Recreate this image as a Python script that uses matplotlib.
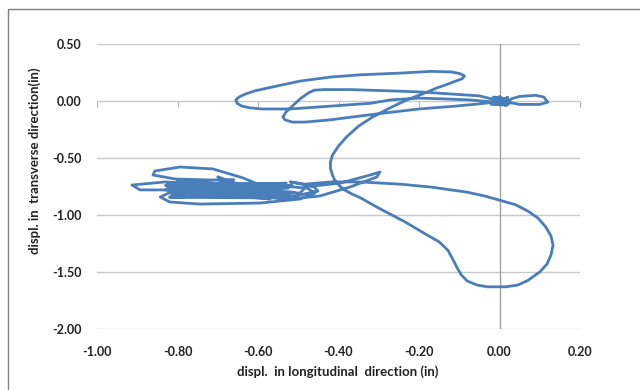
import matplotlib
matplotlib.use('Agg')
import matplotlib.pyplot as plt
from matplotlib.patches import Rectangle

plt.rcParams['font.family'] = ['Lato', 'DejaVu Sans']

# displacement path (inches)
origin_x = [0.00, 0.02, -0.02, 0.02, -0.015, 0.02, -0.02, 0.025, 0.0, 0.015, -0.01, 0.02,
            -0.015, 0.01, -0.005, 0.02, 0.03, 0.05, 0.09, 0.11, 0.12, 0.10, 0.05, 0.02, 0.0, -0.01]
origin_y = [0.00, 0.03, -0.03, -0.035, 0.035, 0.01, -0.02, -0.02, 0.04, -0.04, 0.03, 0.0,
            0.02, -0.03, 0.01, -0.01, 0.02, 0.04, 0.05, 0.035, -0.01, -0.03, -0.03, -0.01, 0.02, 0.01]

loop_x = [-0.05, -0.115, -0.20, -0.28, -0.37, -0.435, -0.46, -0.475, -0.495, -0.515, -0.53,
          -0.538, -0.533, -0.515, -0.483, -0.42, -0.365, -0.285, -0.20, -0.11, -0.05, -0.01]
loop_y = [0.045, 0.06, 0.08, 0.09, 0.10, 0.10, 0.095, 0.07, 0.02, -0.045, -0.095,
          -0.14, -0.165, -0.185, -0.185, -0.165, -0.14, -0.105, -0.07, -0.045, -0.025, -0.01]

big_x = [-0.075, -0.15, -0.20, -0.27, -0.32, -0.42, -0.52, -0.59, -0.62, -0.64, -0.652,
         -0.655, -0.647, -0.632, -0.607, -0.555, -0.495, -0.42, -0.345, -0.245, -0.17,
         -0.12, -0.098, -0.087, -0.093, -0.108]
big_y = [0.01, 0.02, 0.025, 0.01, -0.02, -0.045, -0.07, -0.07, -0.06, -0.045, -0.02,
         0.01, 0.035, 0.06, 0.09, 0.13, 0.175, 0.21, 0.23, 0.245, 0.26,
         0.255, 0.24, 0.22, 0.195, 0.175]

swing_x = [-0.135, -0.155, -0.193, -0.23, -0.272, -0.315, -0.35, -0.38, -0.40, -0.415, -0.42,
           -0.42, -0.415, -0.41, -0.397, -0.385, -0.367, -0.345, -0.30, -0.235, -0.18, -0.15,
           -0.128, -0.115, -0.105, -0.095, -0.08, -0.055, -0.03, 0.015, 0.045, 0.07, 0.10,
           0.118, 0.128, 0.133, 0.128, 0.115, 0.095, 0.07, 0.04, 0.0, -0.035, -0.08, -0.17,
           -0.245, -0.345, -0.42, -0.485]
swing_y = [0.14, 0.115, 0.06, 0.01, -0.06, -0.14, -0.22, -0.315, -0.395, -0.475, -0.535,
           -0.59, -0.65, -0.69, -0.745, -0.78, -0.815, -0.85, -0.94, -1.06, -1.175, -1.235,
           -1.31, -1.395, -1.465, -1.525, -1.58, -1.615, -1.63, -1.63, -1.615, -1.575, -1.50,
           -1.43, -1.35, -1.265, -1.185, -1.105, -1.025, -0.965, -0.91, -0.87, -0.835, -0.80,
           -0.755, -0.73, -0.71, -0.71, -0.73]

cluster_x = [-0.52, -0.463, -0.451, -0.508, -0.595, -0.632, -0.57, -0.483, -0.496, -0.582,
             -0.82, -0.53, -0.81, -0.545, -0.825, -0.52, -0.795, -0.56, -0.815, -0.51, -0.78,
             -0.57, -0.83, -0.60,
             -0.637, -0.68, -0.712, -0.794, -0.856, -0.861, -0.806, -0.719, -0.66,
             -0.76, -0.62, -0.75, -0.60, -0.70, -0.63, -0.74, -0.58,
             -0.831, -0.913, -0.893, -0.831,
             -0.525, -0.80, -0.54, -0.82,
             -0.843, -0.819, -0.744, -0.595, -0.496, -0.458, -0.483,
             -0.396, -0.322, -0.297, -0.305, -0.371, -0.446, -0.52,
             -0.82, -0.55, -0.56, -0.83, -0.82, -0.54, -0.55, -0.81, -0.80, -0.56, -0.57,
             -0.79, -0.80, -0.53, -0.55, -0.82, -0.80, -0.60, -0.62, -0.78,
             -0.81, -0.56, -0.57, -0.82, -0.81, -0.55, -0.57, -0.80, -0.79, -0.58,
             -0.77, -0.515, -0.825, -0.53, -0.75, -0.65, -0.72]
cluster_y = [-0.71, -0.746, -0.79, -0.833, -0.825, -0.78, -0.737, -0.763, -0.807, -0.80,
             -0.76, -0.72, -0.83, -0.78, -0.72, -0.835, -0.79, -0.745, -0.845, -0.80, -0.735,
             -0.86, -0.78, -0.73,
             -0.675, -0.63, -0.596, -0.579, -0.614, -0.649, -0.684, -0.693, -0.69,
             -0.77, -0.75, -0.82, -0.79, -0.665, -0.84, -0.80, -0.76,
             -0.71, -0.737, -0.78, -0.78,
             -0.765, -0.70, -0.815, -0.805,
             -0.842, -0.886, -0.904, -0.895, -0.86, -0.807, -0.754,
             -0.72, -0.65, -0.623, -0.667, -0.754, -0.833, -0.86,
             -0.72, -0.725, -0.745, -0.74, -0.76, -0.765, -0.785, -0.78, -0.80, -0.805, -0.82,
             -0.815, -0.83, -0.835, -0.85, -0.845, -0.79, -0.77, -0.80, -0.775,
             -0.73, -0.735, -0.755, -0.75, -0.77, -0.775, -0.795, -0.79, -0.81, -0.815,
             -0.84, -0.74, -0.745, -0.86, -0.75, -0.80, -0.78]

xticks = [-1.0, -0.8, -0.6, -0.4, -0.2, 0.0, 0.2]
yticks = [0.5, 0.0, -0.5, -1.0, -1.5, -2.0]

x = origin_x + loop_x + big_x + swing_x + cluster_x
y = origin_y + loop_y + big_y + swing_y + cluster_y

fig = plt.figure(figsize=(6.4, 3.9), dpi=100)
ax = fig.add_axes([97 / 640, 1 - 329 / 390, 483 / 640, 285 / 390])
ax.plot(x, y, color='#4a7ebb', lw=2.0, solid_joinstyle='round', zorder=3)

ax.set_xlim(-1.0, 0.2)
ax.set_ylim(-2.0, 0.5)
ax.set_xticks(xticks)
ax.set_yticks(yticks)
ax.set_xticklabels([f'{v:.2f}' for v in xticks], fontweight='bold')
ax.set_yticklabels([f'{v:.2f}' for v in yticks], fontweight='bold')
ax.tick_params(length=0, labelsize=9, colors='#222222')
ax.tick_params(axis='x', pad=12)
ax.tick_params(axis='y', pad=11)
ax.grid(axis='y', color='#c8c8c8', lw=1)
ax.set_axisbelow(True)
for s in ax.spines.values():
    s.set_visible(False)
ax.axvline(0, color='#a0a0a0', lw=1, zorder=1)

# horizontal axis crosses at y = 0
sec = ax.secondary_xaxis(0.8)
sec.set_xticks(xticks)
sec.xaxis.set_ticks_position('bottom')
sec.tick_params(length=4, color='#b0b0b0', labelbottom=False, labeltop=False)
for s in sec.spines.values():
    s.set_visible(False)

fig.text(338 / 640, 1 - 372 / 390, 'displ.  in longitudinal  direction (in)',
         ha='center', va='center', fontsize=9.5, fontweight='bold', color='#222222')
fig.text(35 / 640, 1 - 161 / 390, 'displ. in  transverse direction(in)', rotation=90,
         ha='center', va='center', fontsize=9.5, fontweight='bold', color='#222222')

fig.add_artist(Rectangle((8 / 640, -0.1), 1.0, 1 - 9 / 390 + 0.1, transform=fig.transFigure,
                         fill=False, edgecolor='#808080', lw=1))

fig.savefig('out.png', dpi=100)
